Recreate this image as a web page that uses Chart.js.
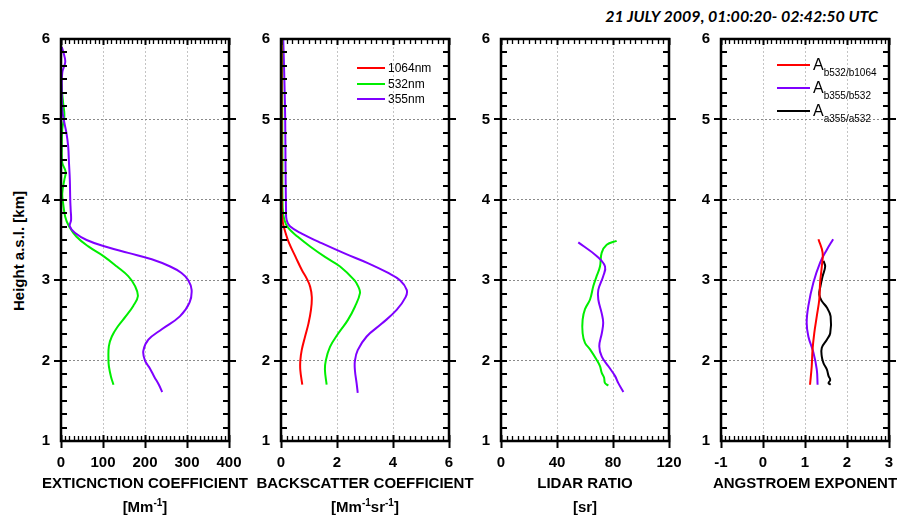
<!DOCTYPE html>
<html>
<head>
<meta charset="utf-8">
<script src="https://cdn.jsdelivr.net/npm/chart.js@4.4.1/dist/chart.umd.min.js"></script>
<style>
    body {
        margin: 0;
        width: 909px;
        height: 520px;
        position: relative;
        overflow: hidden;
        background: #fff;
        font-family: "Liberation Sans", Arial, sans-serif;
    }
    canvas {
        position: absolute;
        top: 0;
    }
    .date-title {
        position: absolute;
        right: 31px;
        top: 6px;
        font-family: Lato, "Open Sans", sans-serif;
        font-style: italic;
        font-weight: bold;
        font-size: 16px;
        white-space: nowrap;
    }
    .y-title {
        position: absolute;
        left: 18px;
        top: 251px;
        transform: translate(-50%, -50%) rotate(-90deg);
        font-weight: bold;
        font-size: 15px;
        white-space: nowrap;
    }
    .x-title {
        position: absolute;
        width: 260px;
        text-align: center;
        font-weight: bold;
        font-size: 15px;
        line-height: 24px;
        white-space: nowrap;
    }
    .x-title sup {
        font-size: 10px;
        line-height: 0;
        vertical-align: 6px;
    }
    .legend-row {
        position: absolute;
        display: flex;
        align-items: center;
        height: 14px;
        font-size: 12px;
        white-space: nowrap;
    }
    .legend-line {
        display: inline-block;
        height: 2px;
        margin-right: 3px;
    }
    .legend-row .big {
        font-size: 16px;
        line-height: 14px;
    }
    .legend-row sub {
        font-size: 10px;
        line-height: 0;
        vertical-align: -6px;
    }
</style>
</head>
<body>
<div class="date-title">21 JULY 2009, 01:00:20- 02:42:50 UTC</div>
<div class="y-title">Height a.s.l. [km]</div>

<canvas id="panel-ext" width="290" height="520"></canvas>
<canvas id="panel-bsc" width="290" height="520"></canvas>
<canvas id="panel-lr" width="290" height="520"></canvas>
<canvas id="panel-ang" width="290" height="520"></canvas>

<div class="x-title" style="left:15px; top:471px;">EXTICNCTION COEFFICIENT<br>[Mm<sup>-1</sup>]</div>
<div class="x-title" style="left:235px; top:471px;">BACKSCATTER COEFFICIENT<br>[Mm<sup>-1</sup>sr<sup>-1</sup>]</div>
<div class="x-title" style="left:455px; top:471px;">LIDAR RATIO<br>[sr]</div>
<div class="x-title" style="left:675px; top:471px;">ANGSTROEM EXPONENT</div>

<div id="legend-bsc"></div>
<div id="legend-ang"></div>

<script>
// colours of the wavelengths
const RED = '#ff0000';
const GREEN = '#00ee00';
const VIOLET = '#7f00ff';
const BLACK = '#000000';

// height axis (km)
const heightTicks = [1, 2, 3, 4, 5, 6];

// extinction coefficient [Mm-1]
const ext355Height = [1.61, 1.70, 1.80, 1.90, 2.00, 2.12, 2.26, 2.39, 2.55, 2.72, 2.88, 3.00, 3.09, 3.17, 3.26, 3.34, 3.42, 3.50, 3.59, 3.67, 3.75, 3.88, 4.00, 4.25, 4.46, 4.67, 4.83, 4.96, 5.12, 5.37, 5.58, 5.71, 5.79, 5.90];
const ext355 = [241, 233, 222, 212, 200, 196, 208, 240, 283, 306, 311, 303, 287, 260, 216, 160, 105, 61, 33, 21, 24, 23, 22, 21, 19, 17, 13, 8, 3, 2, 3, 10, 8, 2];
const ext532Height = [1.70, 1.80, 1.93, 2.01, 2.18, 2.30, 2.43, 2.55, 2.68, 2.80, 2.93, 3.05, 3.17, 3.30, 3.42, 3.54, 3.67, 3.79, 3.96, 4.08, 4.25, 4.35, 4.46, 4.67, 4.88, 5.04, 5.21, 5.37, 5.56];
const ext532 = [125, 119, 114, 113, 114, 121, 136, 154, 172, 183, 176, 160, 133, 101, 65, 37, 19, 10, 5, 3, 8, 11, 3, 2, 3, 8, 5, 2, 0];

// backscatter coefficient [Mm-1 sr-1]
const bsc1064Height = [1.70, 1.88, 2.00, 2.13, 2.30, 2.46, 2.63, 2.79, 2.92, 3.02, 3.13, 3.29, 3.46, 3.58, 3.71, 3.85, 4.50, 5.50, 6.00];
const bsc1064 = [0.76, 0.69, 0.69, 0.74, 0.86, 0.98, 1.07, 1.10, 1.04, 0.92, 0.74, 0.52, 0.29, 0.17, 0.07, 0.03, 0.02, 0.02, 0.02];
const bsc532Height = [1.70, 1.88, 2.00, 2.17, 2.34, 2.50, 2.67, 2.84, 2.92, 3.00, 3.17, 3.29, 3.42, 3.54, 3.65, 3.75, 3.90, 4.50, 5.50, 6.00];
const bsc532 = [1.63, 1.57, 1.60, 1.75, 2.05, 2.38, 2.64, 2.82, 2.76, 2.62, 2.11, 1.57, 1.04, 0.60, 0.26, 0.12, 0.06, 0.05, 0.04, 0.04];
const bsc355Height = [1.60, 1.72, 1.88, 2.00, 2.13, 2.30, 2.46, 2.63, 2.79, 2.88, 3.00, 3.09, 3.21, 3.33, 3.46, 3.58, 3.67, 3.75, 3.87, 4.50, 5.00, 5.50, 6.00];
const bsc355 = [2.74, 2.70, 2.64, 2.64, 2.74, 3.06, 3.60, 4.13, 4.45, 4.49, 4.25, 3.83, 3.12, 2.29, 1.45, 0.74, 0.32, 0.20, 0.18, 0.16, 0.15, 0.12, 0.08];

// lidar ratio [sr]
const lr355Height = [1.61, 1.72, 1.81, 1.93, 2.05, 2.18, 2.34, 2.47, 2.59, 2.76, 2.88, 3.05, 3.17, 3.30, 3.47];
const lr355 = [87.4, 83.8, 81.4, 76.7, 72.0, 70.2, 72.0, 73.0, 71.9, 69.5, 69.5, 73.0, 74.3, 68.3, 55.2];
const lr532Height = [1.69, 1.72, 1.79, 1.85, 1.93, 2.01, 2.14, 2.22, 2.34, 2.51, 2.64, 2.76, 2.93, 3.05, 3.17, 3.34, 3.44, 3.49];
const lr532 = [76.7, 74.3, 73.6, 71.9, 70.7, 68.3, 63.6, 60.0, 58.3, 58.3, 60.0, 63.6, 66.0, 68.3, 70.7, 71.9, 75.5, 82.6];

// angstroem exponents
const angB532Height = [1.70, 1.93, 2.14, 2.34, 2.55, 2.76, 2.97, 3.17, 3.34, 3.51];
const angB532 = [1.12, 1.16, 1.18, 1.22, 1.28, 1.34, 1.36, 1.40, 1.42, 1.32];
const angB355Height = [1.70, 1.89, 2.10, 2.30, 2.47, 2.68, 2.97, 3.22, 3.38, 3.51];
const angB355 = [1.30, 1.28, 1.20, 1.08, 1.04, 1.08, 1.20, 1.36, 1.52, 1.67];
const angA355Height = [1.70, 1.72, 1.76, 1.81, 1.89, 1.97, 2.05, 2.16, 2.26, 2.34, 2.55, 2.66, 2.74, 2.82, 2.93, 3.05, 3.17, 3.24];
const angA355 = [1.61, 1.56, 1.60, 1.56, 1.52, 1.44, 1.40, 1.40, 1.52, 1.60, 1.61, 1.52, 1.40, 1.34, 1.37, 1.42, 1.48, 1.44];

// legend texts
const bscLabels = ['1064nm', '532nm', '355nm'];
const angSubscripts = ['b532/b1064', 'b355/b532', 'a355/a532'];

// x axes: [min, max, step, minor step]
const extAxis = [0, 400, 100, 10];
const bscAxis = [0, 6, 2, 0.2];
const lrAxis = [0, 120, 40, 4];
const angAxis = [-1, 3, 1, 0.1];

const PLOT_LEFTS = [61, 281, 501, 721];
const FONT = { family: '"Liberation Sans", Arial, sans-serif', size: 15, weight: 'bold' };

function profile(values, heights) {
    return values.map((v, i) => ({ x: v, y: heights[i] }));
}

function series(label, color, values, heights) {
    return {
        label: label,
        data: profile(values, heights),
        borderColor: color,
        backgroundColor: color,
        borderWidth: 2,
        pointRadius: 0,
        showLine: true,
        tension: 0.4,
        fill: false
    };
}

// frame box with the in/out tick marks of the original plots
const framePlugin = {
    id: 'frame',
    afterDatasetsDraw(chart) {
        const { ctx, chartArea: a, scales: { x } } = chart;
        const y = chart.scales.y;
        const [xMin, xMax, xStep, xMinor] = chart.options.axisSpec;
        ctx.save();
        ctx.strokeStyle = '#000';
        ctx.lineCap = 'butt';

        // height ticks, 5 minor ticks between the km marks
        for (let i = 1; i < 30; i++) {
            const py = Math.round(y.getPixelForValue(1 + i / 6));
            const major = i % 6 === 0;
            ctx.lineWidth = 2;
            ctx.beginPath();
            if (major) {
                ctx.moveTo(a.left - 7, py); ctx.lineTo(a.left + 6, py);
                ctx.moveTo(a.right - 6, py); ctx.lineTo(a.right + 7, py);
            } else {
                ctx.moveTo(a.left, py); ctx.lineTo(a.left + 6, py);
                ctx.moveTo(a.right - 6, py); ctx.lineTo(a.right, py);
            }
            ctx.stroke();
        }

        // x ticks, dense minor ticks on top and bottom
        const n = Math.round((xMax - xMin) / xMinor);
        const every = Math.round(xStep / xMinor);
        for (let i = 0; i <= n; i++) {
            const px = Math.round(x.getPixelForValue(xMin + i * xMinor)) + 0.5;
            const major = i % every === 0;
            ctx.lineWidth = major ? 2 : 1.3;
            ctx.beginPath();
            if (major) {
                ctx.moveTo(px, a.bottom - 6); ctx.lineTo(px, a.bottom + 7);
                ctx.moveTo(px, a.top - 1); ctx.lineTo(px, a.top + 6);
            } else {
                ctx.moveTo(px, a.bottom - 5); ctx.lineTo(px, a.bottom);
                ctx.moveTo(px, a.top); ctx.lineTo(px, a.top + 5);
            }
            ctx.stroke();
        }

        ctx.lineWidth = 2.5;
        ctx.strokeRect(a.left, a.top, a.width, a.height);
        ctx.restore();
    }
};

function makePanel(canvasId, left, axis, datasets) {
    const canvas = document.getElementById(canvasId);
    canvas.style.left = (left - 60) + 'px';
    return new Chart(canvas, {
        type: 'scatter',
        data: { datasets: datasets },
        options: {
            responsive: false,
            animation: false,
            devicePixelRatio: 1,
            axisSpec: axis,
            layout: { padding: { top: 39, right: 62, left: 0, bottom: 0 } },
            plugins: {
                legend: { display: false },
                tooltip: { enabled: false }
            },
            scales: {
                x: {
                    type: 'linear',
                    min: axis[0],
                    max: axis[1],
                    afterFit: scale => { scale.height = 79; },
                    ticks: { stepSize: axis[2], color: '#000', font: FONT, padding: 13, maxRotation: 0 },
                    grid: { color: '#c4c4c4', lineWidth: 1, drawTicks: false },
                    border: { display: false, dash: [2, 2] }
                },
                y: {
                    type: 'linear',
                    min: heightTicks[0],
                    max: heightTicks[heightTicks.length - 1],
                    afterFit: scale => { scale.width = 60; },
                    ticks: { stepSize: 1, color: '#000', font: FONT, padding: 11 },
                    grid: { color: '#8a8a8a', lineWidth: 1, drawTicks: false },
                    border: { display: false, dash: [2, 2] }
                }
            }
        },
        plugins: [framePlugin]
    });
}

const extChart = makePanel('panel-ext', PLOT_LEFTS[0], extAxis, [
    series('355nm', VIOLET, ext355, ext355Height),
    series('532nm', GREEN, ext532, ext532Height)
]);

const bscChart = makePanel('panel-bsc', PLOT_LEFTS[1], bscAxis, [
    series(bscLabels[0], RED, bsc1064, bsc1064Height),
    series(bscLabels[1], GREEN, bsc532, bsc532Height),
    series(bscLabels[2], VIOLET, bsc355, bsc355Height)
]);

const lrChart = makePanel('panel-lr', PLOT_LEFTS[2], lrAxis, [
    series('355nm', VIOLET, lr355, lr355Height),
    series('532nm', GREEN, lr532, lr532Height)
]);

const angChart = makePanel('panel-ang', PLOT_LEFTS[3], angAxis, [
    series('A ' + angSubscripts[0], RED, angB532, angB532Height),
    series('A ' + angSubscripts[1], VIOLET, angB355, angB355Height),
    series('A ' + angSubscripts[2], BLACK, angA355, angA355Height)
]);

// legends built from the chart datasets
function buildLegend(containerId, chart, left, top, gap, lineWidth, textFor) {
    const box = document.getElementById(containerId);
    chart.data.datasets.forEach((ds, i) => {
        const row = document.createElement('div');
        row.className = 'legend-row';
        row.style.left = left + 'px';
        row.style.top = (top + i * gap - 7) + 'px';
        row.innerHTML = `<span class="legend-line" style="width:${lineWidth}px; background:${ds.borderColor}"></span>${textFor(ds, i)}`;
        box.appendChild(row);
    });
}

buildLegend('legend-bsc', bscChart, 357, 68, 15.5, 28, ds => ds.label);
buildLegend('legend-ang', angChart, 777, 65, 23, 33, (ds, i) => `<span class="big">A<sub>${angSubscripts[i]}</sub></span>`);
</script>
</body>
</html>
